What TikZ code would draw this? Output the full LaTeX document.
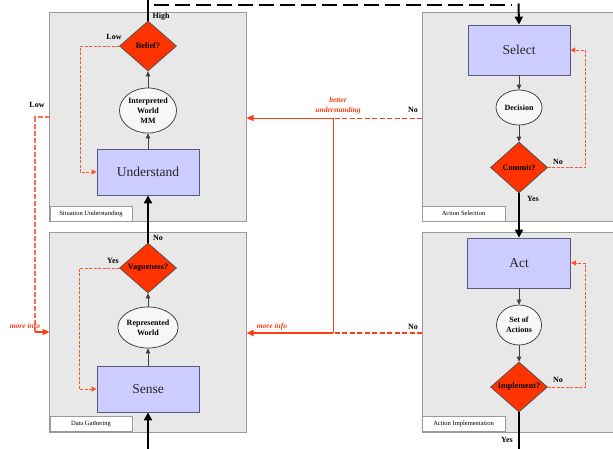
\documentclass[tikz,border=0pt]{standalone}
\usepackage{fontspec}
\setmainfont{Liberation Serif}
\usetikzlibrary{shapes.geometric,arrows.meta}

\definecolor{panelfill}{HTML}{E8E8E8}
\definecolor{panelline}{HTML}{9A9A9A}
\definecolor{boxfill}{HTML}{CCCCFF}
\definecolor{boxline}{HTML}{5A5A80}
\definecolor{decfill}{HTML}{FF3300}
\definecolor{flowred}{HTML}{FF3B14}
\definecolor{loopred}{HTML}{FF5533}

\begin{document}
\begin{tikzpicture}[x=1pt,y=-1pt,
  panel/.style={draw=panelline,fill=panelfill,line width=0.9pt},
  tab/.style={draw=panelline,fill=white,line width=0.7pt,inner sep=0pt,
    font=\fontsize{6.5}{7}\selectfont,minimum height=15pt},
  stagebox/.style={draw=boxline,fill=boxfill,line width=0.8pt,inner sep=0pt,
    font=\fontsize{13.5}{15}\selectfont,text=black!85},
  state/.style={ellipse,draw=black!80,fill=white!97!black,line width=0.7pt,
    inner sep=0pt,align=center,font=\bfseries\fontsize{8}{9.8}\selectfont},
  query/.style={diamond,draw=black!70,fill=decfill,line width=0.7pt,inner sep=0pt,
    font=\bfseries\fontsize{8.2}{9}\selectfont,minimum width=57pt,minimum height=50pt},
  lbl/.style={inner sep=0pt,font=\bfseries\fontsize{8}{9}\selectfont},
  redlbl/.style={inner sep=0pt,align=center,text=flowred,
    font=\bfseries\itshape\fontsize{7.5}{10}\selectfont},
  substep/.style={draw=black!75,line width=0.8pt,-{Triangle[width=4.5pt,length=5pt]}},
  mainline/.style={draw=black,line width=2pt},
  mainflow/.style={mainline,-{Triangle[width=8pt,length=8pt]}},
  retry/.style={draw=loopred,line width=1pt,dash pattern=on 3pt off 1.5pt,
    -{Triangle[width=5pt,length=5pt]}},
  feedback/.style={draw=flowred,line width=1pt},
  feedbackdash/.style={feedback,dash pattern=on 5pt off 2.5pt},
  feedbackarrow/.style={feedback,-{Triangle[width=6pt,length=7pt]}}
]
\useasboundingbox (0,0) rectangle (613,448);

% four stage panels
\draw[panel] (49.5,12.5) rectangle (246.5,221.5);
\draw[panel] (49.5,232) rectangle (246.5,432);
\draw[panel] (422,12.5) rectangle (625,221.5);
\draw[panel] (422,232) rectangle (625,432);

\node[tab,minimum width=82pt] (tabsu) at (91,213.75) {Situation Understanding};
\node[tab,minimum width=82pt] (tabdg) at (91,424.25) {Data Gathering};
\node[tab,minimum width=83pt] (tabas) at (463.5,213.75) {Action Selection};
\node[tab,minimum width=83pt] (tabai) at (463.5,424.25) {Action Implementation};

% situation understanding
\node[stagebox,minimum width=102pt,minimum height=46pt] (understand) at (148,172) {Understand};
\node[state,minimum width=57pt,minimum height=45pt] (interp) at (148,110.5) {Interpreted\\World\\MM};
\node[query] (belief) at (148,46) {Belief?};

% data gathering
\node[stagebox,minimum width=102pt,minimum height=46pt] (sense) at (148,389) {Sense};
\node[state,minimum width=54pt,minimum height=41pt] (represented) at (148,327.5) {Represented\\World};
\node[query] (vague) at (148,268) {Vagueness?};

% action selection
\node[stagebox,minimum width=102pt,minimum height=50pt] (select) at (519,50) {Select};
\node[state,minimum width=46pt,minimum height=35pt] (decision) at (519,107.5) {Decision};
\node[query,minimum height=51pt] (commit) at (519,167.5) {Commit?};

% action implementation
\node[stagebox,minimum width=103pt,minimum height=50pt] (act) at (519,263) {Act};
\node[state,minimum width=45pt,minimum height=40pt] (actions) at (519,325) {Set of\\Actions};
\node[query] (implement) at (519,387) {Implement?};

% steps inside each stage
\draw[substep] (understand.north) -- (interp.south);
\draw[substep] (interp.north) -- (belief.south);
\draw[substep] (sense.north) -- (represented.south);
\draw[substep] (represented.north) -- (vague.south);
\draw[substep] (select.south) -- (decision.north);
\draw[substep] (decision.south) -- (commit.north);
\draw[substep] (act.south) -- (actions.north);
\draw[substep] (actions.south) -- (implement.north);

% retry loops
\draw[retry] (belief.west) -- ++(-39,0) |- (understand.west);
\draw[retry] (vague.west) -- ++(-40,0) |- (sense.west);
\draw[retry] (commit.east) -- ++(38,0) |- (select.east);
\draw[retry] (implement.east) -- ++(38,0) |- (act.east);

% main flow
\coordinate (entry) at (148,452);
\coordinate (exit) at (519,452);
\coordinate (uptop) at (148,-4);
\coordinate (dashstart) at (154,5);
\coordinate (dashend) at (512,5);
\coordinate (downtop) at (518.5,3.5);
\draw[mainflow] (entry) -- (sense.south);
\draw[mainflow] (vague.north) -- (understand.south);
\draw[mainline] (belief.north) -- (uptop);
\draw[mainline,dash pattern=on 15pt off 6pt] (dashstart) -- (dashend);
\draw[mainflow] (downtop) -- (select.north);
\draw[mainflow] (commit.south) -- (act.north);
\draw[mainline] (implement.south) -- (exit);

% feedback paths
\coordinate (suwest) at (49.5,117);
\coordinate (lowturn) at (35,117);
\coordinate (infoturn) at (35,332);
\coordinate (dgwest) at (49.5,332);
\draw[draw=loopred!85,line width=1.4pt,dash pattern=on 5pt off 2pt] (suwest) -- (lowturn) -- (infoturn);
\draw[feedbackarrow,line width=1.4pt] (infoturn) -- (dgwest);

\coordinate (aswest) at (422,118);
\coordinate (jtop) at (333,118);
\coordinate (sueast) at (246.5,118);
\coordinate (aiwest) at (422,333);
\coordinate (jbot) at (333,333);
\coordinate (dgeast) at (246.5,333);
\draw[feedbackdash] (aswest) -- (jtop);
\draw[feedbackarrow] (jtop) -- (sueast);
\draw[feedbackdash,line width=1.6pt] (aiwest) -- (jbot);
\draw[feedbackarrow,line width=1.6pt] (jbot) -- (dgeast);
\draw[feedback] (jtop) -- (jbot);

% labels
\node[lbl] (lhigh) at (161,16.5) {High};
\node[lbl] (llow) at (114,37) {Low};
\node[lbl] (lowout) at (37,105) {Low};
\node[lbl] (lvno) at (158,238) {No};
\node[lbl] (lvyes) at (113,261) {Yes};
\node[lbl] (lcno) at (558,162) {No};
\node[lbl] (lcyes) at (533,199) {Yes};
\node[lbl] (lino) at (558,380) {No};
\node[lbl] (liyes) at (507,440) {Yes};
\node[lbl] (lasno) at (413,109.5) {No};
\node[lbl] (laino) at (413,327) {No};
\node[redlbl] (better) at (338,105.5) {better\\understanding};
\node[redlbl] (infor) at (272,327) {more info};
\node[redlbl] (infol) at (25,327) {more info};
\end{tikzpicture}
\end{document}
